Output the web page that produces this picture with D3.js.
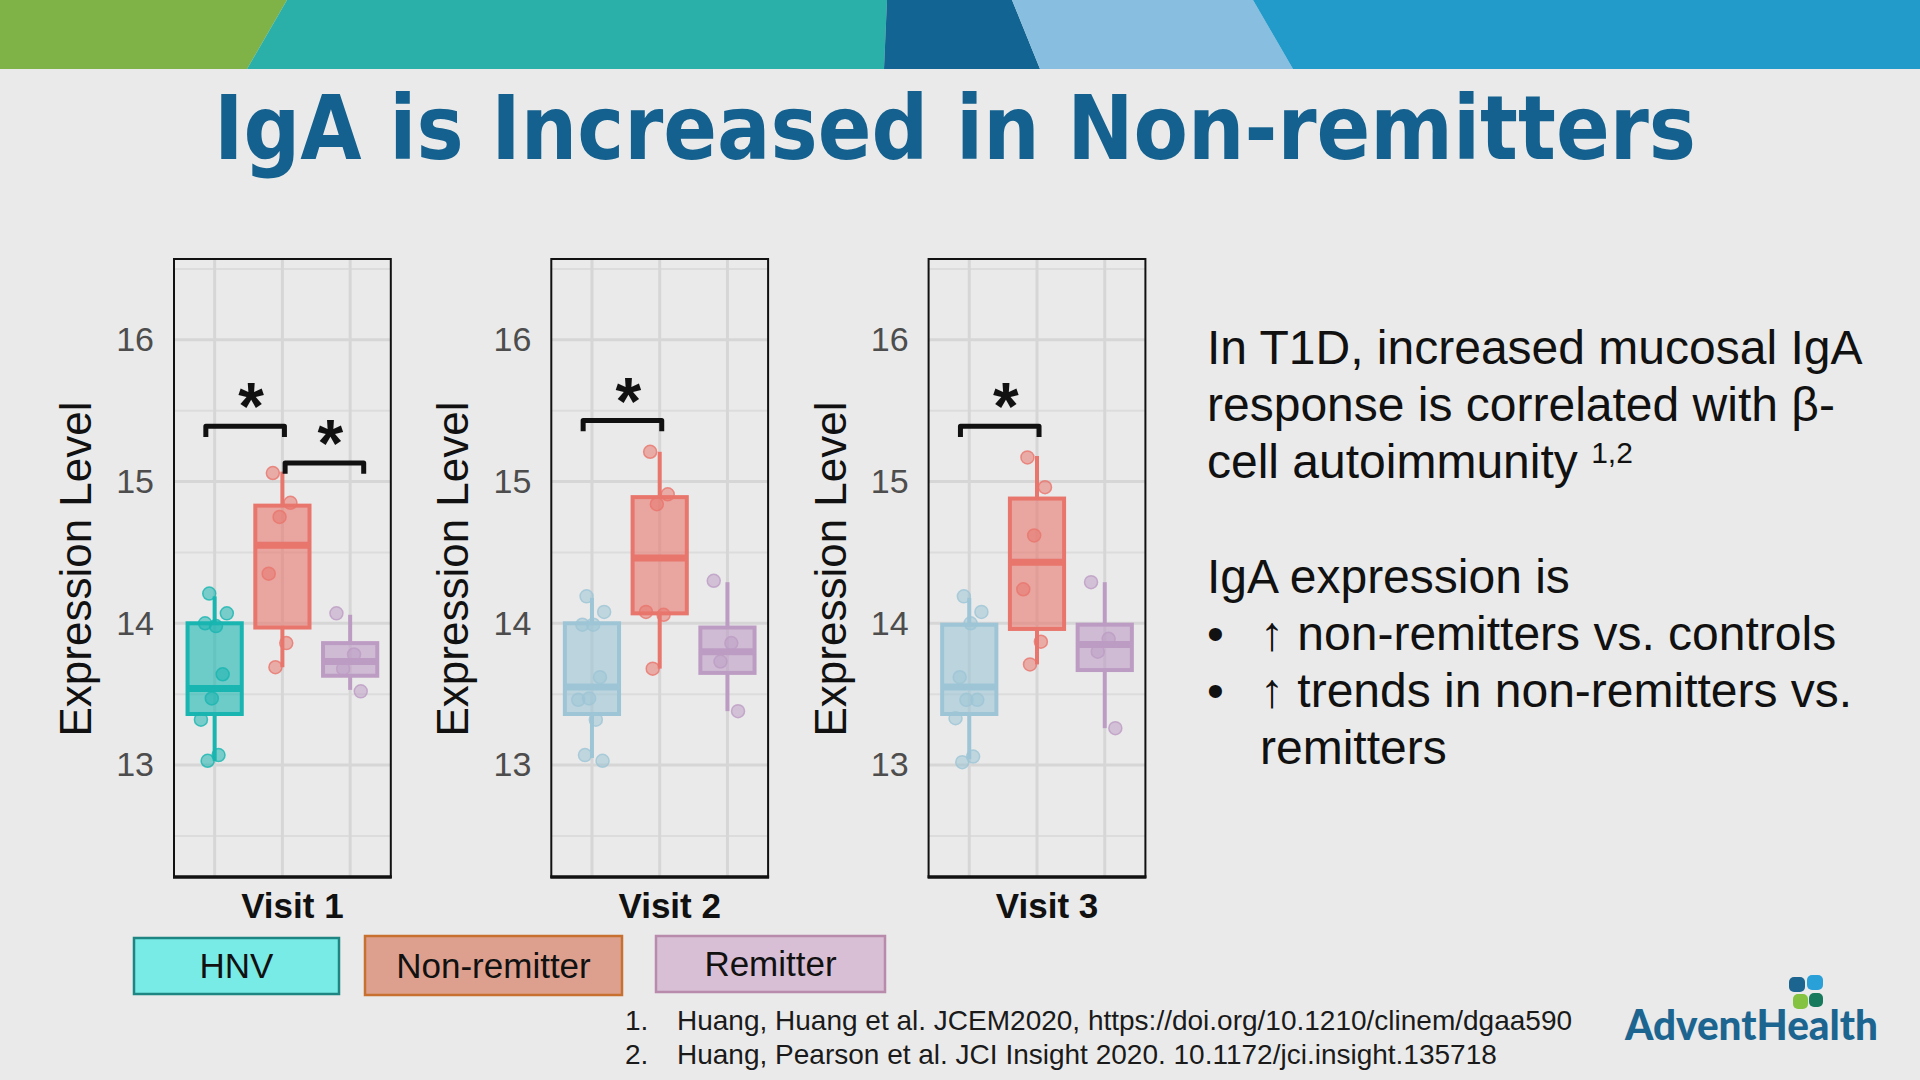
<!DOCTYPE html>
<html>
<head>
<meta charset="utf-8">
<script src="https://cdn.jsdelivr.net/npm/d3@7"></script>
<style>
  body { margin: 0; background: #eaeaea; }
  svg { display: block; font-family: 'Liberation Sans', Arial, sans-serif; }
</style>
</head>
<body>
<div id="chart"></div>
<script>
// ---- data ----
const visits = ['Visit 1', 'Visit 2', 'Visit 3'];
const groups = ['HNV', 'Non-remitter', 'Remitter'];
const yTicks = [13, 14, 15, 16];
const yMinorTicks = [12.5, 13.5, 14.5, 15.5, 16.5];
const yDomain = [12.21, 16.57];

// box stats per group: [whisker low, q1, median, q3, whisker high]
const boxVisit1 = [[13.03, 13.36, 13.54, 14.00, 14.19], [13.69, 13.97, 14.55, 14.83, 15.07], [13.53, 13.63, 13.73, 13.86, 14.06]];
const boxVisit2 = [[13.05, 13.36, 13.55, 14.00, 14.18], [13.68, 14.07, 14.46, 14.89, 15.21], [13.38, 13.65, 13.80, 13.97, 14.29]];
const boxVisit3 = [[13.04, 13.36, 13.55, 13.99, 14.18], [13.71, 13.96, 14.43, 14.88, 15.18], [13.26, 13.67, 13.85, 13.99, 14.29]];

// individual samples per group
const pointsVisit1 = [
  [14.21, 14.07, 13.98, 14.00, 13.64, 13.47, 13.32, 13.07, 13.03],
  [15.06, 14.85, 14.75, 14.35, 13.86, 13.69],
  [14.07, 13.78, 13.68, 13.52]
];
const pointsVisit2 = [
  [14.19, 14.08, 13.99, 13.99, 13.62, 13.47, 13.46, 13.32, 13.07, 13.03],
  [15.21, 14.91, 14.84, 14.08, 14.06, 13.68],
  [14.30, 13.86, 13.73, 13.38]
];
const pointsVisit3 = [
  [14.19, 14.08, 14.00, 13.62, 13.46, 13.46, 13.33, 13.06, 13.02],
  [15.17, 14.96, 14.62, 14.24, 13.87, 13.71],
  [14.29, 13.89, 13.80, 13.26]
];

// significance brackets: [group a, group b, bracket level]
const sigVisit1 = [['HNV', 'Non-remitter', 15.39], ['Non-remitter', 'Remitter', 15.13]];
const sigVisit2 = [['HNV', 'Non-remitter', 15.43]];
const sigVisit3 = [['HNV', 'Non-remitter', 15.39]];

const boxes = [boxVisit1, boxVisit2, boxVisit3];
const points = [pointsVisit1, pointsVisit2, pointsVisit3];
const sigs = [sigVisit1, sigVisit2, sigVisit3];

const bodyLines = ['In T1D, increased mucosal IgA', 'response is correlated with β-', 'cell autoimmunity '];
const bullets = ['↑ non-remitters vs. controls', '↑ trends in non-remitters vs.'];
const references = [
  'Huang, Huang et al. JCEM2020, https://doi.org/10.1210/clinem/dgaa590',
  'Huang, Pearson et al. JCI Insight 2020. 10.1172/jci.insight.135718'
];

// ---- colours ----
const strokeColor = (vi, gi) => {
  if (gi === 0) return vi === 0 ? '#19b5b0' : '#9dc5d6';
  return gi === 1 ? '#e8766d' : '#bd9cc4';
};
const legendFill = ['#79ebe6', '#dda08f', '#d8bfd5'];
const legendStroke = ['#1f8583', '#c8702f', '#b88aab'];

const svg = d3.select('#chart').append('svg')
  .attr('width', 1920)
  .attr('height', 1080);

svg.append('rect').attr('width', 1920).attr('height', 1080).attr('fill', '#eaeaea');

// top colour banner
const banner = [
  ['#80b347', [[0, 0], [287, 0], [247, 69], [0, 69]]],
  ['#2ab0a8', [[287, 0], [887, 0], [884, 69], [247, 69]]],
  ['#126592', [[887, 0], [1012, 0], [1040, 69], [884, 69]]],
  ['#88bedf', [[1012, 0], [1253, 0], [1293, 69], [1040, 69]]],
  ['#229bcb', [[1253, 0], [1920, 0], [1920, 69], [1293, 69]]]
];
svg.selectAll('.band')
  .data(banner)
  .enter().append('polygon')
  .attr('points', d => d[1].map(p => p.join(',')).join(' '))
  .attr('fill', d => d[0]);

// title
svg.append('text')
  .attr('x', 214).attr('y', 159)
  .attr('textLength', 1482)
  .attr('lengthAdjust', 'spacingAndGlyphs')
  .style('font-family', "'DejaVu Sans', Verdana, sans-serif")
  .style('font-weight', 'bold')
  .style('font-size', '89px')
  .attr('fill', '#14618f')
  .text('IgA is Increased in Non-remitters');

// ---- panels ----
const panelTop = 259, panelBottom = 877;
const panelLeft0 = 174, panelStep = 377.3, panelW = 216.8;

const y = d3.scaleLinear().domain(yDomain).range([panelBottom, panelTop]);

// deterministic spread for the sample dots
const jitter = i => (((i * 0.618034 + 0.31) % 1) - 0.5) * 0.42;

visits.forEach((visit, vi) => {
  const left = panelLeft0 + vi * panelStep;
  const x = d3.scalePoint().domain(groups).range([left, left + panelW]).padding(0.6);
  const u = x.step();
  const g = svg.append('g');

  // grid
  g.selectAll('.minor').data(yMinorTicks).enter().append('line')
    .attr('x1', left).attr('x2', left + panelW)
    .attr('y1', d => y(d)).attr('y2', d => y(d))
    .attr('stroke', '#dcdcdc').attr('stroke-width', 2);
  g.selectAll('.major').data(yTicks).enter().append('line')
    .attr('x1', left).attr('x2', left + panelW)
    .attr('y1', d => y(d)).attr('y2', d => y(d))
    .attr('stroke', '#d6d6d6').attr('stroke-width', 3);
  g.selectAll('.vgrid').data(groups).enter().append('line')
    .attr('x1', d => x(d)).attr('x2', d => x(d))
    .attr('y1', panelTop).attr('y2', panelBottom)
    .attr('stroke', '#d6d6d6').attr('stroke-width', 3);

  // boxplots
  const bw = 0.8 * u;
  groups.forEach((grp, gi) => {
    const [lo, q1, med, q3, hi] = boxes[vi][gi];
    const cx = x(grp);
    const col = strokeColor(vi, gi);
    g.append('line').attr('x1', cx).attr('x2', cx).attr('y1', y(hi)).attr('y2', y(q3))
      .attr('stroke', col).attr('stroke-width', 4);
    g.append('line').attr('x1', cx).attr('x2', cx).attr('y1', y(q1)).attr('y2', y(lo))
      .attr('stroke', col).attr('stroke-width', 4);
    g.append('rect')
      .attr('x', cx - bw / 2).attr('width', bw)
      .attr('y', y(q3)).attr('height', y(q1) - y(q3))
      .attr('fill', col).attr('fill-opacity', 0.6)
      .attr('stroke', col).attr('stroke-width', 4);
    g.append('line').attr('x1', cx - bw / 2).attr('x2', cx + bw / 2)
      .attr('y1', y(med)).attr('y2', y(med))
      .attr('stroke', col).attr('stroke-width', 7);

    g.selectAll('.pt' + gi)
      .data(points[vi][gi])
      .enter().append('circle')
      .attr('cx', (d, i) => cx + jitter(i + gi * 3) * u)
      .attr('cy', d => y(d))
      .attr('r', 6.5)
      .attr('fill', col).attr('fill-opacity', 0.55)
      .attr('stroke', col).attr('stroke-opacity', 0.8).attr('stroke-width', 1.5);
  });

  // frame
  g.append('rect')
    .attr('x', left).attr('y', panelTop)
    .attr('width', panelW).attr('height', panelBottom - panelTop)
    .attr('fill', 'none').attr('stroke', '#111').attr('stroke-width', 2);
  g.append('line')
    .attr('x1', left - 1).attr('x2', left + panelW + 1)
    .attr('y1', panelBottom).attr('y2', panelBottom)
    .attr('stroke', '#111').attr('stroke-width', 3.5);

  // significance brackets (the second bracket sits a little to the right)
  sigs[vi].forEach(([a, b, level], si) => {
    const shift = si === 0 ? 0 : 0.17 * u;
    const x1 = x(a) - 0.13 * u + shift, x2 = x(b) + 0.03 * u + shift;
    const yTop = y(level), yLeg = y(level - 0.075);
    g.append('path')
      .attr('d', `M${x1},${yLeg}V${yTop}H${x2}V${yLeg}`)
      .attr('fill', 'none').attr('stroke', '#111')
      .attr('stroke-width', 5).attr('stroke-linejoin', 'round');
    g.append('text')
      .attr('x', (x1 + x2) / 2 + 6).attr('y', yTop + 3)
      .attr('text-anchor', 'middle')
      .style('font-weight', 'bold').style('font-size', '66px')
      .attr('fill', '#111')
      .text('*');
  });

  // y axis
  const axis = g.append('g')
    .attr('transform', `translate(${left},0)`)
    .call(d3.axisLeft(y).tickValues(yTicks).tickSize(0).tickPadding(20).tickFormat(d3.format('d')));
  axis.select('.domain').remove();
  axis.selectAll('text')
    .style('font-family', "'Liberation Sans', Arial, sans-serif")
    .style('font-size', '34px')
    .attr('fill', '#4d4d4d');

  g.append('text')
    .attr('transform', `translate(${left - 83},569) rotate(-90)`)
    .attr('text-anchor', 'middle')
    .style('font-size', '44px')
    .attr('fill', '#111')
    .text('Expression Level');

  g.append('text')
    .attr('x', left + panelW / 2 + 10).attr('y', 918)
    .attr('text-anchor', 'middle')
    .style('font-weight', 'bold').style('font-size', '35px')
    .attr('fill', '#111')
    .text(visit);
});

// ---- legend ----
const legendBoxes = [[134, 938, 205, 56], [365, 936, 257, 59], [656, 936, 229, 56]];
groups.forEach((grp, gi) => {
  const [lx, ly, lw, lh] = legendBoxes[gi];
  svg.append('rect')
    .attr('x', lx).attr('y', ly).attr('width', lw).attr('height', lh)
    .attr('fill', legendFill[gi]).attr('stroke', legendStroke[gi]).attr('stroke-width', 2.5);
  svg.append('text')
    .attr('x', lx + lw / 2).attr('y', ly + lh / 2 + 12)
    .attr('text-anchor', 'middle')
    .style('font-size', '35px')
    .attr('fill', '#111')
    .text(grp);
});

// ---- right-hand text ----
const tx = 1207;
bodyLines.forEach((line, i) => {
  const t = svg.append('text')
    .attr('x', tx).attr('y', 364 + i * 57)
    .style('font-size', '48px').attr('fill', '#111')
    .text(line);
  if (i === 2) {
    t.append('tspan').attr('dy', -15).style('font-size', '30px').text('1,2');
  }
});
svg.append('text')
  .attr('x', tx).attr('y', 593)
  .style('font-size', '48px').attr('fill', '#111')
  .text('IgA expression is');
bullets.forEach((b, i) => {
  svg.append('text')
    .attr('x', tx).attr('y', 650 + i * 57)
    .style('font-size', '48px').attr('fill', '#111')
    .text('•');
  svg.append('text')
    .attr('x', 1260).attr('y', 650 + i * 57)
    .style('font-size', '48px').attr('fill', '#111')
    .text(b);
});
svg.append('text')
  .attr('x', 1260).attr('y', 764)
  .style('font-size', '48px').attr('fill', '#111')
  .text('remitters');

// ---- references ----
references.forEach((r, i) => {
  svg.append('text')
    .attr('x', 625).attr('y', 1030 + i * 34)
    .style('font-size', '28px').attr('fill', '#1a1a1a')
    .text((i + 1) + '.');
  svg.append('text')
    .attr('x', 677).attr('y', 1030 + i * 34)
    .style('font-size', '28px').attr('fill', '#1a1a1a')
    .text(r);
});

// ---- logo ----
const leaf = [
  ['#1c6591', 1789, 977, 16, 15],
  ['#2aa0d8', 1807, 975, 16, 15],
  ['#84c341', 1793, 994, 15, 15],
  ['#177a5d', 1809, 993, 14, 14]
];
svg.selectAll('.leaf').data(leaf).enter().append('rect')
  .attr('x', d => d[1]).attr('y', d => d[2])
  .attr('width', d => d[3]).attr('height', d => d[4])
  .attr('rx', 5)
  .attr('fill', d => d[0]);
svg.append('text')
  .attr('x', 1625).attr('y', 1040)
  .attr('textLength', 253).attr('lengthAdjust', 'spacingAndGlyphs')
  .style('font-family', 'Lato, sans-serif')
  .style('font-weight', '900').style('font-size', '42px')
  .attr('fill', '#1c6591')
  .text('AdventHealth');
</script>
</body>
</html>
